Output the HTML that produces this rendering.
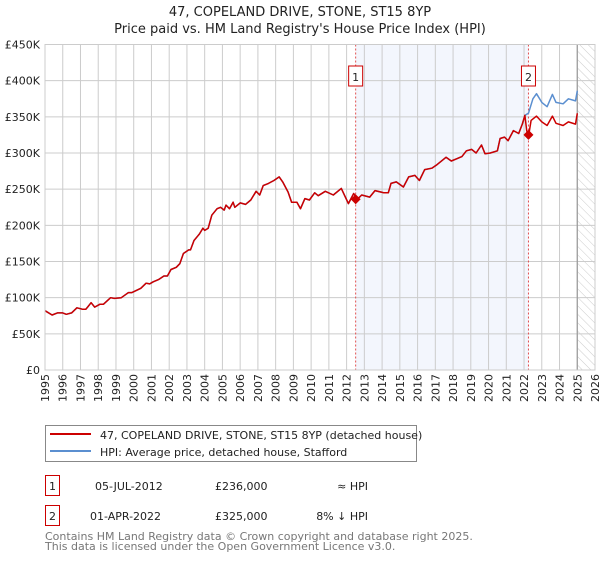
<!DOCTYPE html>
<html><head><meta charset="utf-8"><style>
body{margin:0;background:#fff;font-family:"DejaVu Sans","Liberation Sans",sans-serif;}
svg text{font-family:"DejaVu Sans","Liberation Sans",sans-serif;}
</style></head><body>
<svg id="chart" width="600" height="560" viewBox="0 0 600 560" xmlns="http://www.w3.org/2000/svg">
<defs><pattern id="hatch" width="6" height="6" patternUnits="userSpaceOnUse" patternTransform="rotate(-45)"><line x1="0" y1="0" x2="0" y2="6" stroke="#ccc" stroke-width="1"/></pattern></defs>
<text x="300" y="16" text-anchor="middle" font-size="13" fill="#222">47, COPELAND DRIVE, STONE, ST15 8YP</text>
<text x="300" y="33" text-anchor="middle" font-size="13" fill="#222">Price paid vs. HM Land Registry's House Price Index (HPI)</text>
<g id="plot"></g>
<g>
<rect x="45.5" y="425.5" width="371" height="36" fill="#fff" stroke="#888"/>
<line x1="50" y1="434" x2="91" y2="434" stroke="#cc0000" stroke-width="2"/>
<text x="100" y="439" font-size="11" fill="#222">47, COPELAND DRIVE, STONE, ST15 8YP (detached house)</text>
<line x1="50" y1="451" x2="91" y2="451" stroke="#5b8fd0" stroke-width="2"/>
<text x="100" y="456" font-size="11" fill="#222">HPI: Average price, detached house, Stafford</text>
</g>
<g font-size="11" fill="#222">
<rect x="45.5" y="475.5" width="14" height="20" fill="#fff" stroke="#cc0000"/>
<text x="52.5" y="490" text-anchor="middle">1</text>
<text x="95" y="490">05-JUL-2012</text>
<text x="215" y="490">£236,000</text>
<text x="368" y="490" text-anchor="end">≈ HPI</text>
<rect x="45.5" y="505.5" width="14" height="20" fill="#fff" stroke="#cc0000"/>
<text x="52.5" y="520" text-anchor="middle">2</text>
<text x="90" y="520">01-APR-2022</text>
<text x="215" y="520">£325,000</text>
<text x="368" y="520" text-anchor="end">8% ↓ HPI</text>
</g>
<text x="45" y="540" font-size="11" fill="#777">Contains HM Land Registry data © Crown copyright and database right 2025.</text>
<text x="45" y="550" font-size="11" fill="#777">This data is licensed under the Open Government Licence v3.0.</text>
</svg>
<script>
const baseYears=[1995.0,1995.4,1995.7,1996.0,1996.2,1996.5,1996.8,1997.1,1997.3,1997.4,1997.6,1997.8,1998.1,1998.3,1998.7,1998.9,1999.3,1999.7,1999.9,2000.4,2000.7,2000.9,2001.1,2001.4,2001.7,2001.9,2002.1,2002.4,2002.6,2002.8,2003.1,2003.2,2003.4,2003.6,2003.7,2003.9,2004.0,2004.2,2004.4,2004.7,2004.9,2005.1,2005.2,2005.4,2005.6,2005.7,2006.0,2006.3,2006.6,2006.9,2007.1,2007.3,2007.6,2007.9,2008.2,2008.4,2008.7,2008.9,2009.2,2009.4,2009.65,2009.9,2010.2,2010.4,2010.8,2011.25,2011.7,2012.1,2012.4,2012.6,2012.85,2013.3,2013.6,2014.1,2014.35,2014.5,2014.8,2015.2,2015.5,2015.85,2016.1,2016.4,2016.8,2017.1,2017.6,2017.9,2018.2,2018.5,2018.75,2019.05,2019.3,2019.6,2019.8,2020.1,2020.5,2020.65,2020.9,2021.1,2021.4,2021.7,2021.9,2022.05];
const baseValues=[82,76,79,79,77,79,86,84,84,87,93,87,91,91,100,99,100,107,107,113,120,119,122,125,130,130,139,142,147,161,166,166,179,185,188,196,193,196,214,223,225,221,228,223,232,225,231,229,235,247,242,255,258,262,267,260,246,232,232,223,237,235,245,241,247,242,251,230,244,236,242,239,248,245,245,258,260,253,267,269,262,277,279,284,294,289,292,295,303,305,300,311,299,300,303,320,322,317,331,327,340,352];
const hpiTailYears=[2022.25,2022.5,2022.7,2023.0,2023.3,2023.6,2023.8,2024.2,2024.5,2024.9,2025.0];
const hpiTailValues=[355,375,382,370,364,381,370,368,375,372,386];
const priceTailYears=[2022.15,2022.25,2022.4,2022.7,2023.0,2023.3,2023.6,2023.8,2024.2,2024.5,2024.9,2025.0];
const priceTailValues=[331,323,345,351,343,338,351,341,338,343,340,355];
const saleYears=[2012.51,2022.25];
const saleValues=[236,325];
const saleLabels=["1","2"];
const yTicks=[0,50,100,150,200,250,300,350,400,450];
const yTickLabels=["£0","£50K","£100K","£150K","£200K","£250K","£300K","£350K","£400K","£450K"];
const xTicks=[1995,1996,1997,1998,1999,2000,2001,2002,2003,2004,2005,2006,2007,2008,2009,2010,2011,2012,2013,2014,2015,2016,2017,2018,2019,2020,2021,2022,2023,2024,2025,2026];
const dataEnd=2025.0;

const X0=45,X1=595,Y0=370,Y1=44.5;
const x=v=>X0+(v-1995)/(2026-1995)*(X1-X0);
const y=v=>Y0-v/450*(Y0-Y1);
const NS="http://www.w3.org/2000/svg";
const plot=document.getElementById('plot');
function mk(tag,attrs,parent){const e=document.createElementNS(NS,tag);for(const k in attrs)e.setAttribute(k,attrs[k]);(parent||plot).appendChild(e);return e;}

const shade=mk('rect',{x:x(saleYears[0]),y:Y1,width:x(saleYears[1])-x(saleYears[0]),height:Y0-Y1,fill:'#f3f6fd'});


const hatch=mk('rect',{x:x(dataEnd),y:Y1,width:X1-x(dataEnd),height:Y0-Y1,fill:'url(#hatch)'});



xTicks.forEach(t=>{
  const l=mk('line',{x1:x(t),x2:x(t),y1:Y1,y2:Y0,stroke:'#ccc','stroke-width':1});
  
  
  const tx=mk('text',{x:0,y:0,'font-size':11,fill:'#222','text-anchor':'end',transform:`translate(${x(t)+4},374) rotate(-90)`});
  tx.textContent=t;
  
  
});
yTicks.forEach((t,i)=>{
  const l=mk('line',{x1:X0,x2:X1,y1:y(t),y2:y(t),stroke:'#ccc','stroke-width':1});
  
  
  const tx=mk('text',{x:40,y:y(t)+4,'font-size':11,fill:'#222','text-anchor':'end'});
  tx.textContent=yTickLabels[i];
  
  
});
const endLine=mk('line',{x1:x(dataEnd),x2:x(dataEnd),y1:Y1,y2:Y0,stroke:'#999','stroke-width':1.2});



saleYears.forEach((s,i)=>{
  const l=mk('line',{x1:x(s),x2:x(s),y1:Y1,y2:Y0,stroke:'#e05050','stroke-width':1,'stroke-dasharray':'2,2'});
  
  
});

function path(xs,vs){return xs.map((t,i)=>(i?'L':'M')+x(t).toFixed(1)+','+y(vs[i]).toFixed(1)).join('');}
const hpiY=baseYears.concat(hpiTailYears), hpiV=baseValues.concat(hpiTailValues);
const prY=baseYears.concat(priceTailYears), prV=baseValues.concat(priceTailValues);
const hpi=mk('path',{d:path(hpiY,hpiV),fill:'none',stroke:'#5b8fd0','stroke-width':1.5,'stroke-linejoin':'round'});


const pr=mk('path',{d:path(prY,prV),fill:'none',stroke:'#cc0000','stroke-width':1.5,'stroke-linejoin':'round'});



saleYears.forEach((s,i)=>{
  const cx=x(s),cy=y(saleValues[i]);
  const d=mk('path',{d:`M${cx},${cy-5}L${cx+5},${cy}L${cx},${cy+5}L${cx-5},${cy}Z`,fill:'#cc0000'});
  
  
  const b=mk('rect',{x:cx-7,y:66,width:14,height:20,fill:'#fff',stroke:'#cc0000'});
  
  
  const t=mk('text',{x:cx,y:81,'font-size':11,'text-anchor':'middle',fill:'#222'});
  t.textContent=saleLabels[i];
  
  
});
const frame=mk('rect',{x:X0,y:Y1,width:X1-X0,height:Y0-Y1,fill:'none',stroke:'#ccc'});


</script>
</body></html>
